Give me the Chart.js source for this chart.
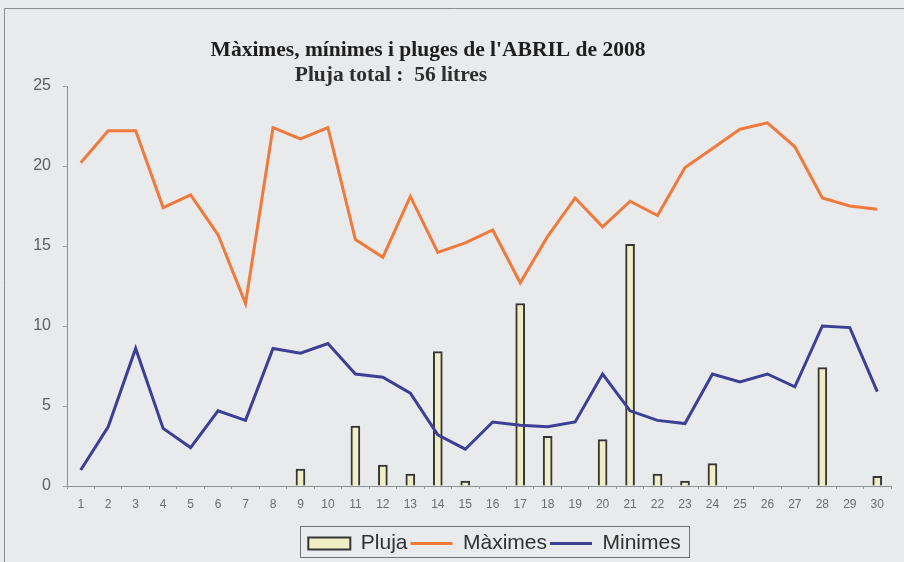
<!DOCTYPE html>
<html>
<head>
<meta charset="utf-8">
<script src="https://cdn.jsdelivr.net/npm/chart.js@4.4.1/dist/chart.umd.min.js"></script>
<style>
  html, body { margin: 0; padding: 0; background: #e9eaeb; }
  #wrap { position: absolute; left: 0; top: 0; width: 904px; height: 562px; }
</style>
</head>
<body>
<div id="wrap"><canvas id="myChart" width="904" height="562"></canvas></div>
<script>
const days = ['1','2','3','4','5','6','7','8','9','10','11','12','13','14','15','16','17','18','19','20','21','22','23','24','25','26','27','28','29','30'];
const pluja = [null, null, null, null, null, null, null, null, 1.05, null, 3.75, 1.3, 0.75, 8.4, 0.3, null, 11.4, 3.1, null, 2.9, 15.1, 0.75, 0.3, 1.4, null, null, null, 7.4, null, 0.6];
const maximes = [20.2, 22.2, 22.2, 17.4, 18.2, 15.7, 11.4, 22.4, 21.7, 22.4, 15.4, 14.3, 18.1, 14.6, 15.2, 16.0, 12.7, 15.6, 18.0, 16.2, 17.8, 16.9, 19.9, 21.1, 22.3, 22.7, 21.2, 18.0, 17.5, 17.3];
const minimes = [1.0, 3.7, 8.6, 3.6, 2.4, 4.7, 4.1, 8.6, 8.3, 8.9, 7.0, 6.8, 5.8, 3.2, 2.3, 4.0, 3.8, 3.7, 4.0, 7.0, 4.7, 4.1, 3.9, 7.0, 6.5, 7.0, 6.2, 10.0, 9.9, 5.9];
const yTicks = [0, 5, 10, 15, 20, 25];

const frame = {
    id: 'frame',
    afterLayout(chart) {
        // el llegendari va desplaçat a la dreta i avall, com a l'original
        chart.legend.left += 49;
        chart.legend.right += 49;
        chart.legend.top += 12;
        chart.legend.bottom += 12;
    },
    beforeDraw(chart) {
        const ctx = chart.ctx;
        ctx.save();
        ctx.fillStyle = '#e9eaeb';
        ctx.fillRect(0, 0, chart.width, chart.height);
        ctx.strokeStyle = '#8a8c8e';
        ctx.lineWidth = 1;
        ctx.beginPath();
        ctx.moveTo(4.5, chart.height);
        ctx.lineTo(4.5, 8.5);
        ctx.lineTo(chart.width, 8.5);
        ctx.stroke();
        ctx.restore();
    },
    afterDraw(chart) {
        const ctx = chart.ctx;
        ctx.save();
        ctx.fillStyle = '#1e1e1e';
        ctx.textAlign = 'center';
        ctx.textBaseline = 'middle';
        ctx.font = 'bold 21.5px "Liberation Serif"';
        ctx.fillText("Màximes, mínimes i pluges de l'ABRIL de 2008", 428, 50);
        ctx.fillStyle = '#2e2e2e';
        ctx.font = 'bold 21.5px "Liberation Serif"';
        ctx.fillText('Pluja total :  56 litres', 391, 75);
        ctx.strokeStyle = '#707274';
        ctx.lineWidth = 1;
        ctx.strokeRect(300.5, 526.5, 389, 31);
        ctx.restore();
    }
};

const ctx = document.getElementById('myChart').getContext('2d');
const myChart = new Chart(ctx, {
    data: {
        labels: days,
        datasets: [
            {
                type: 'bar',
                label: 'Pluja',
                data: pluja,
                backgroundColor: '#efefc6',
                borderColor: '#353535',
                borderWidth: 2,
                barThickness: 9,
                pointStyle: 'rect',
                order: 3
            },
            {
                type: 'line',
                label: 'Màximes',
                data: maximes,
                borderColor: '#f07a3c',
                backgroundColor: '#f07a3c',
                borderWidth: 3,
                pointRadius: 0,
                pointStyle: 'line',
                tension: 0,
                order: 1
            },
            {
                type: 'line',
                label: 'Minimes',
                data: minimes,
                borderColor: '#3c3f94',
                backgroundColor: '#3c3f94',
                borderWidth: 3,
                pointRadius: 0,
                pointStyle: 'line',
                tension: 0,
                order: 2
            }
        ]
    },
    options: {
        responsive: false,
        animation: false,
        layout: { padding: { left: 0, right: 13, top: 86, bottom: 10 } },
        scales: {
            x: {
                offset: true,
                grid: { display: true, drawOnChartArea: false, offset: true, tickLength: 3, color: '#9a9c9e' },
                border: { color: '#8e9092' },
                ticks: { color: '#6a6c6e', font: { family: 'Arial', size: 12 }, maxRotation: 0, autoSkip: false, padding: 8 },
                afterFit(scale) { scale.height = 32; }
            },
            y: {
                min: 0,
                max: 25,
                afterBuildTicks(scale) { scale.ticks = yTicks.map(v => ({ value: v })); },
                grid: { display: true, drawOnChartArea: false, tickLength: 4, color: '#9a9c9e' },
                border: { color: '#8e9092' },
                ticks: { color: '#5c5e60', font: { family: 'Arial', size: 16 }, padding: 12 },
                afterFit(scale) { scale.width = 67; }
            }
        },
        plugins: {
            legend: {
                position: 'bottom',
                labels: {
                    usePointStyle: true,
                    pointStyleWidth: 42,
                    color: '#303030',
                    font: { family: 'Arial', size: 21 },
                    padding: 3,
                    boxHeight: 12,
                    sort: (a, b) => a.datasetIndex - b.datasetIndex
                }
            },
            tooltip: { enabled: false }
        }
    },
    plugins: [frame]
});
</script>
</body>
</html>
